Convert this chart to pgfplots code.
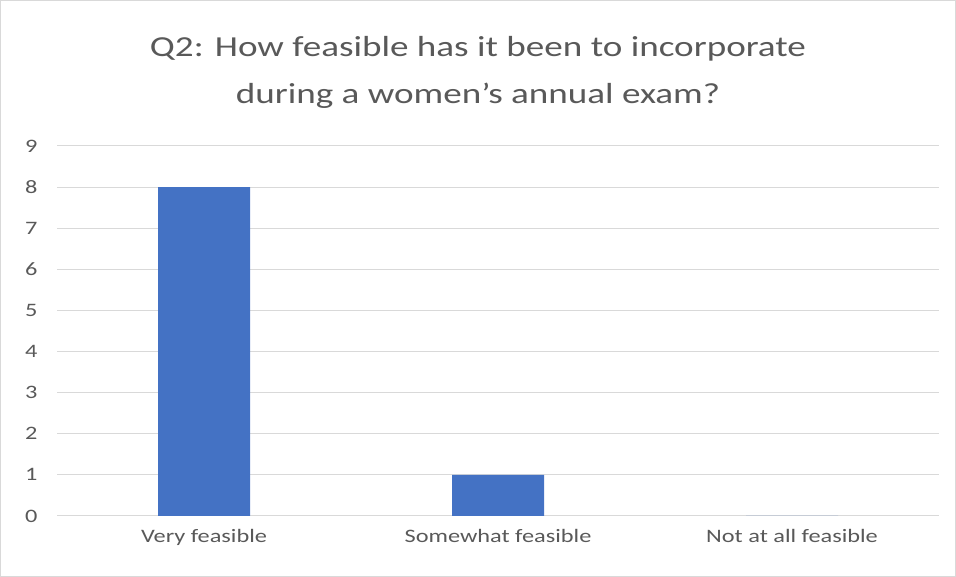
\documentclass[border=0pt]{standalone}
\usepackage{pgfplots}
\pgfplotsset{compat=1.18}
\usepackage{fontspec}
\setmainfont{Carlito}
\newfontfamily\wide[FakeStretch=1.28]{Carlito}
\definecolor{barblue}{HTML}{4472C4}
\definecolor{gridgray}{HTML}{D9D9D9}
\definecolor{txtgray}{HTML}{595959}
\begin{document}
\begin{tikzpicture}[x=1bp,y=1bp]
\draw[gridgray, line width=1bp] (0.5,0.5) rectangle (955.5,576.5);
\node[align=center, text=txtgray, font=\wide\fontsize{29bp}{47bp}\selectfont] at (478,505) {Q2: How feasible has it been to incorporate\\during a women’s annual exam?};
\begin{axis}[
  at={(57bp,61bp)}, anchor=south west,
  scale only axis, width=882bp, height=370bp,
  xmin=-0.5, xmax=2.5, ymin=0, ymax=9,
  ytick={0,1,...,9},
  xtick={0,1,2},
  xticklabels={Very feasible, Somewhat feasible, Not at all feasible},
  ymajorgrids, grid style={gridgray, line width=1bp},
  axis line style={draw=none},
  axis x line*=bottom,
  x axis line style={gridgray, line width=1bp},
  major tick length=0pt,
  tick label style={text=txtgray, font=\wide\fontsize{19bp}{21bp}\selectfont},
  /pgf/number format/assume math mode=true,
  yticklabel style={xshift=-16bp},
  xticklabel style={yshift=-10bp},
  ybar, bar width=92bp,
  clip=false,
]
\addplot[fill=barblue, draw=none] coordinates {(0,8) (1,1) (2,0)};
\end{axis}
\end{tikzpicture}
\end{document}
